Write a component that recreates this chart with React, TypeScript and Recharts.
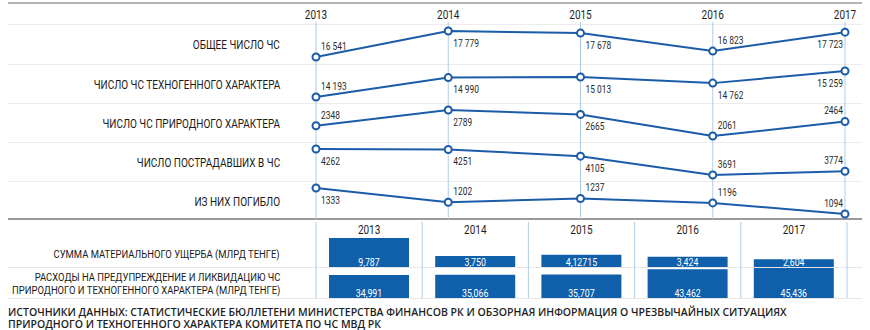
import React from 'react'
import { LineChart, Line, XAxis, YAxis, CartesianGrid, LabelList, BarChart, Bar } from 'recharts'

const years = [2013, 2014, 2015, 2016, 2017]

const totalEmergencies = [16541, 17779, 17678, 16823, 17723]
const techEmergencies = [14193, 14990, 15013, 14762, 15259]
const naturalEmergencies = [2348, 2789, 2665, 2061, 2464]
const victims = [4262, 4251, 4105, 3691, 3774]
const deaths = [1333, 1202, 1237, 1196, 1094]

// млрд тенге
const damage = [9.787, 3.75, 4.12715, 3.424, 2.604]
const spending = [34.991, 35.066, 35.707, 43.462, 45.436]

// label above or below the point
const totalPlace = ['up', 'down', 'down', 'up', 'down']
const techPlace = ['up', 'down', 'down', 'down', 'down']
const naturalPlace = ['up', 'down', 'down', 'up', 'up']
const victimsPlace = ['down', 'down', 'down', 'up', 'up']
const deathsPlace = ['down', 'up', 'up', 'up', 'up']

const rowTitles = [
  'ОБЩЕЕ ЧИСЛО ЧС',
  'ЧИСЛО ЧС ТЕХНОГЕННОГО ХАРАКТЕРА',
  'ЧИСЛО ЧС ПРИРОДНОГО ХАРАКТЕРА',
  'ЧИСЛО ПОСТРАДАВШИХ В ЧС',
  'ИЗ НИХ ПОГИБЛО',
]
const damageTitle = 'СУММА МАТЕРИАЛЬНОГО УЩЕРБА (МЛРД ТЕНГЕ)'
const spendingTitle = ['РАСХОДЫ НА ПРЕДУПРЕЖДЕНИЕ И ЛИКВИДАЦИЮ ЧС', 'ПРИРОДНОГО И ТЕХНОГЕННОГО ХАРАКТЕРА (МЛРД ТЕНГЕ)']
const sourceNote = [
  'ИСТОЧНИКИ ДАННЫХ: СТАТИСТИЧЕСКИЕ БЮЛЛЕТЕНИ МИНИСТЕРСТВА ФИНАНСОВ РК И ОБЗОРНАЯ ИНФОРМАЦИЯ О ЧРЕЗВЫЧАЙНЫХ СИТУАЦИЯХ',
  'ПРИРОДНОГО И ТЕХНОГЕННОГО ХАРАКТЕРА КОМИТЕТА ПО ЧС МВД РК',
]

const rows = [
  { values: totalEmergencies, place: totalPlace },
  { values: techEmergencies, place: techPlace },
  { values: naturalEmergencies, place: naturalPlace },
  { values: victims, place: victimsPlace },
  { values: deaths, place: deathsPlace },
]

const BLUE = '#1b5ca8'
const BAR_BLUE = '#0f5fab'
const GRID_BLUE = '#b0cde8'
const FONT = 'Roboto, sans-serif'
const SQUEEZE = 0.8
const ROW_TOPS = [24, 63.5, 103, 142, 181]
const ROW_H = 39

const fmtCount = (v: number) => (v >= 10000 ? String(v).replace(/(\d{3})$/, ' $1') : String(v))
const fmtBn = (v: number) => {
  const dec = Math.max(3, (String(v).split('.')[1] || '').length)
  return v.toFixed(dec).replace('.', ',')
}

// condensed svg text (no narrow fonts installed)
const NarrowText = ({ x, y, anchor = 'middle', size, fill, children }: any) => (
  <text
    transform={`translate(${x},${y}) scale(${SQUEEZE},1)`}
    textAnchor={anchor}
    dominantBaseline="central"
    fontSize={size}
    fontFamily={FONT}
    fill={fill}
  >
    {children}
  </text>
)

const HeaderTick = ({ x, payload, y0 }: { x?: number; payload?: { value: number }; y0: number }) => (
  <NarrowText x={x} y={y0} size={12.5} fill="#1e1e1e">
    {payload?.value}
  </NarrowText>
)

function TrendRow({ values, place, top }: { values: number[]; place: string[]; top: number }) {
  const data = years.map((year, i) => ({ year, value: values[i] }))
  const renderLabel = (p: any) => {
    const last = p.index === years.length - 1
    const up = place[p.index] === 'up'
    return (
      <NarrowText
        x={last ? p.x - 2 : p.x + 5}
        y={up ? p.y - 11 : p.y + 12}
        anchor={last ? 'end' : 'start'}
        size={10.5}
        fill="#2a2a2a"
      >
        {fmtCount(p.value)}
      </NarrowText>
    )
  }
  return (
    <div style={{ position: 'absolute', left: 0, top }}>
      <LineChart width={870} height={ROW_H} data={data} margin={{ top: 7, right: 25, bottom: 6, left: 316 }}>
        <XAxis dataKey="year" type="number" domain={[2013, 2017]} hide />
        <YAxis domain={['dataMin', 'dataMax']} hide />
        <Line
          dataKey="value"
          stroke={BLUE}
          strokeWidth={2}
          dot={{ r: 3.5, fill: '#fff', stroke: BLUE, strokeWidth: 2 }}
          isAnimationActive={false}
        >
          <LabelList dataKey="value" content={renderLabel} />
        </Line>
      </LineChart>
    </div>
  )
}

function AmountRow({ values, top, height }: { values: number[]; top: number; height: number }) {
  const data = years.map((year, i) => ({ year, value: values[i] }))
  const renderLabel = (p: any) => (
    <NarrowText x={p.x + p.width / 2} y={p.y + p.height - 5} size={11} fill="#fff">
      {fmtBn(Number(p.value))}
    </NarrowText>
  )
  return (
    <div style={{ position: 'absolute', left: 0, top }}>
      <BarChart width={870} height={height} data={data} barSize={80} margin={{ top: 0, right: 23, bottom: 0, left: 316 }}>
        <XAxis dataKey="year" hide />
        <YAxis domain={[0, 'dataMax']} hide />
        <Bar dataKey="value" fill={BAR_BLUE} isAnimationActive={false}>
          <LabelList dataKey="value" content={renderLabel} />
        </Bar>
      </BarChart>
    </div>
  )
}

const hLine = (top: number, color: string, h = 1) => (
  <div style={{ position: 'absolute', left: 8, width: 854, top, height: h, background: color }} />
)

const rowLabel: React.CSSProperties = {
  position: 'absolute',
  right: 590,
  textAlign: 'right',
  fontFamily: FONT,
  fontSize: 12.5,
  color: '#1a1a1a',
  whiteSpace: 'nowrap',
  transform: `scaleX(${SQUEEZE})`,
  transformOrigin: 'right center',
}

export default function App() {
  const yearRows = years.map((year) => ({ year }))
  return (
    <div style={{ position: 'relative', width: 870, height: 330, background: '#fff', overflow: 'hidden' }}>
      <style>{'body{margin:0}'}</style>
      {hLine(2, '#b4b4b4', 2)}
      {ROW_TOPS.map((t) => (
        <React.Fragment key={t}>{hLine(Math.round(t), '#ececec')}</React.Fragment>
      ))}
      {hLine(218, '#9a9a9a', 2)}
      {hLine(267, '#e6e6e6')}
      {hLine(298, '#e6e6e6')}

      {/* year header and vertical guides for the trend rows */}
      <div style={{ position: 'absolute', left: 0, top: 0 }}>
        <LineChart width={870} height={219} data={yearRows} margin={{ top: 21, right: 25, bottom: 0, left: 316 }}>
          <CartesianGrid vertical horizontal={false} stroke={GRID_BLUE} />
          <XAxis
            dataKey="year"
            type="number"
            domain={[2013, 2017]}
            ticks={years}
            orientation="top"
            height={1}
            axisLine={false}
            tickLine={false}
            tick={<HeaderTick y0={15} />}
          />
        </LineChart>
      </div>

      {rowTitles.map((t, i) => (
        <div key={t} style={{ ...rowLabel, top: ROW_TOPS[i] + 14, lineHeight: '14px' }}>
          {t}
        </div>
      ))}

      {rows.map((r, i) => (
        <TrendRow key={i} values={r.values} place={r.place} top={ROW_TOPS[i]} />
      ))}

      {/* year header and band separators for the amount rows */}
      <div style={{ position: 'absolute', left: 0, top: 220 }}>
        <BarChart width={870} height={78} data={yearRows} margin={{ top: 1, right: 23, bottom: 0, left: 316 }}>
          <CartesianGrid
            horizontal={false}
            stroke={GRID_BLUE}
            verticalCoordinatesGenerator={({ offset }: any) =>
              years.concat([0]).map((_, i) => offset.left + (i * offset.width) / years.length)
            }
          />
          <XAxis dataKey="year" orientation="top" height={1} axisLine={false} tickLine={false} tick={<HeaderTick y0={10} />} />
        </BarChart>
      </div>

      <div style={{ ...rowLabel, fontSize: 11.8, top: 247, lineHeight: '14px' }}>{damageTitle}</div>
      <div style={{ ...rowLabel, fontSize: 11.8, top: 271, lineHeight: '12.5px' }}>
        {spendingTitle[0]}
        <br />
        {spendingTitle[1]}
      </div>

      <AmountRow values={damage} top={238} height={29} />
      <AmountRow values={spending} top={268} height={30} />

      <div
        style={{
          position: 'absolute',
          left: 8,
          top: 306,
          fontFamily: "'Open Sans', sans-serif",
          fontWeight: 600,
          fontSize: 10.5,
          lineHeight: '12px',
          color: '#1e1e1e',
          whiteSpace: 'nowrap',
        }}
      >
        {sourceNote[0]}
        <br />
        {sourceNote[1]}
      </div>
    </div>
  )
}
